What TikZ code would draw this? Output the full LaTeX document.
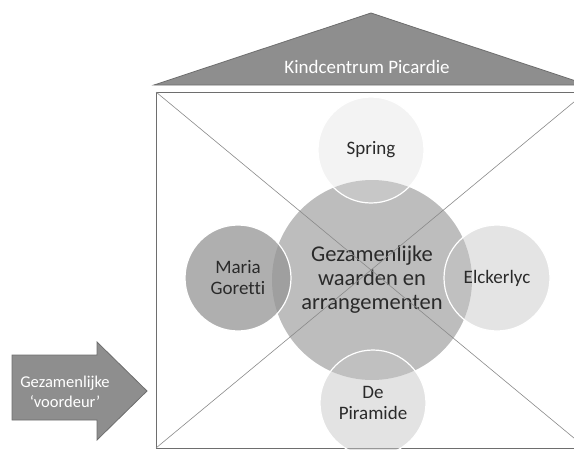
\documentclass[tikz,border=0pt]{standalone}
\usepackage{fontspec}
\setmainfont{Carlito}[Ligatures=NoCommon]
\usetikzlibrary{positioning}
\definecolor{roofgray}{HTML}{8E8E8E}
\definecolor{edgegray}{HTML}{6E6E6E}
\definecolor{linegray}{HTML}{8A8A8A}
\definecolor{inkgray}{HTML}{2A2A2A}
\definecolor{coregray}{HTML}{BDBDBD}

\begin{document}
\begin{tikzpicture}[x=1pt, y=-1pt,
    ring/.style = {circle, draw=white, line width=1.2pt, minimum size=106pt, inner sep=0pt,
                   text opacity=1, text=inkgray, align=center, font=\fontsize{19}{21}\selectfont},
    core/.style = {circle, minimum size=200pt, inner sep=0pt, fill=coregray,
                   text=inkgray, align=center, font=\fontsize{22.5}{24}\selectfont},
    whitetext/.style = {text=white, align=center}]
    \useasboundingbox (0,0) rectangle (574,450);
    % roof
    \coordinate (eaveL) at (154,85);
    \coordinate (eaveR) at (588,85);
    \coordinate (ridge) at (371,13);
    \draw[fill=roofgray, draw=edgegray, line width=0.8pt] (eaveL) -- (ridge) -- (eaveR) -- cycle;
    \node[whitetext, font=\fontsize{19}{21}\selectfont] (roof) at (367,67) {Kindcentrum Picardie};
    % house
    \coordinate (tl) at (156,92);
    \coordinate (tr) at (586,92);
    \coordinate (bl) at (156,448);
    \coordinate (br) at (586,448);
    \draw[edgegray, line width=0.8pt] (tl) rectangle (br);
    % circles
    \node[core] (center) at (372,280) {Gezamenlijke\\waarden en\\arrangementen};
    \node[ring, fill=black!41, fill opacity=0.76] (maria) at (238,278) {Maria\\Goretti};
    \node[ring, fill=black!14, fill opacity=0.34] (spring) at (371,150) {Spring};
    \node[ring, fill=black!23, fill opacity=0.45] (elck) at (497,278) {Elckerlyc};
    \node[ring, fill=black!23, fill opacity=0.48] (piramide) at (373,403) {De\\Piramide};
    % diagonals
    \draw[linegray, line width=0.6pt] (tl) -- (br);
    \draw[linegray, line width=0.6pt] (tr) -- (bl);
    % front door arrow
    \coordinate (a1) at (12,355);
    \coordinate (a2) at (97,355);
    \coordinate (a3) at (97,342);
    \coordinate (tip) at (147,391);
    \coordinate (a5) at (97,440);
    \coordinate (a6) at (97,420);
    \coordinate (a7) at (12,420);
    \draw[fill=roofgray, draw=edgegray, line width=0.8pt]
        (a1) -- (a2) -- (a3) -- (tip) -- (a5) -- (a6) -- (a7) -- cycle;
    \node[whitetext, font=\fontsize{16.5}{20}\selectfont] (door) at (65,392) {Gezamenlijke\\‘voordeur’};
\end{tikzpicture}
\end{document}
